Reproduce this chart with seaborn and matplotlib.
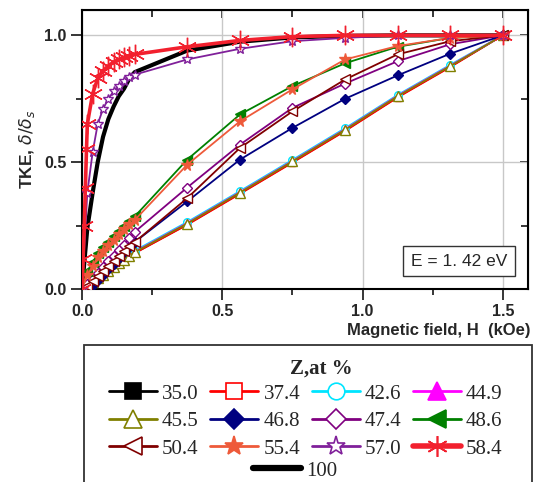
import matplotlib
matplotlib.use("Agg")
import matplotlib.pyplot as plt
from matplotlib.lines import Line2D
from matplotlib.patches import Rectangle
from matplotlib.ticker import MultipleLocator
import seaborn as sns

# magnetic field grid (kOe) shared by most curves
h_field = [0.0, 0.019, 0.038, 0.056, 0.075, 0.094, 0.113, 0.131, 0.15, 0.169, 0.188,
           0.375, 0.563, 0.75, 0.938, 1.125, 1.313, 1.5]

# TKE, delta/delta_s for each composition (Z, at %)
tke_350 = [0, 0.010, 0.024, 0.039, 0.054, 0.069, 0.084, 0.098, 0.113, 0.127, 0.142, 0.255, 0.377, 0.500, 0.625, 0.757, 0.877, 1.0]
tke_374 = [0, 0.009, 0.023, 0.038, 0.053, 0.068, 0.083, 0.097, 0.112, 0.126, 0.141, 0.253, 0.375, 0.498, 0.623, 0.755, 0.875, 1.0]
tke_426 = [0, 0.016, 0.032, 0.048, 0.063, 0.078, 0.093, 0.107, 0.122, 0.136, 0.151, 0.264, 0.386, 0.509, 0.634, 0.765, 0.884, 1.0]
tke_449 = [0, 0.014, 0.029, 0.044, 0.059, 0.074, 0.089, 0.103, 0.118, 0.132, 0.147, 0.260, 0.382, 0.505, 0.630, 0.762, 0.881, 1.0]
tke_455 = [0, 0.012, 0.027, 0.042, 0.057, 0.072, 0.087, 0.101, 0.116, 0.130, 0.145, 0.258, 0.380, 0.503, 0.628, 0.760, 0.879, 1.0]
tke_468 = [0, 0.004, 0.014, 0.035, 0.055, 0.078, 0.100, 0.122, 0.145, 0.167, 0.185, 0.345, 0.510, 0.635, 0.750, 0.842, 0.928, 1.0]
tke_474 = [0, 0.020, 0.040, 0.065, 0.085, 0.110, 0.130, 0.155, 0.175, 0.200, 0.225, 0.400, 0.569, 0.714, 0.810, 0.898, 0.965, 1.0]
tke_486 = [0, 0.070, 0.105, 0.140, 0.165, 0.185, 0.207, 0.228, 0.248, 0.268, 0.286, 0.510, 0.688, 0.800, 0.890, 0.955, 0.990, 1.0]
tke_504 = [0, 0.012, 0.030, 0.050, 0.070, 0.090, 0.110, 0.130, 0.150, 0.168, 0.185, 0.358, 0.556, 0.700, 0.826, 0.925, 0.977, 1.0]
tke_554 = [0, 0.055, 0.090, 0.125, 0.150, 0.172, 0.195, 0.215, 0.235, 0.255, 0.272, 0.490, 0.661, 0.787, 0.905, 0.958, 0.990, 1.0]
tke_570 = [0, 0.380, 0.540, 0.650, 0.710, 0.750, 0.780, 0.800, 0.820, 0.835, 0.845, 0.905, 0.947, 0.977, 0.990, 1.0, 1.0, 1.0]
tke_100 = [0, 0.240, 0.380, 0.500, 0.600, 0.670, 0.720, 0.760, 0.790, 0.830, 0.855, 0.940, 0.975, 0.992, 0.998, 1.0, 1.0, 1.0]

# Z = 58.4 was sampled more densely near zero field
h_field_584 = [0.0, 0.004, 0.008, 0.012, 0.016, 0.019, 0.038, 0.056, 0.075, 0.094, 0.113,
               0.131, 0.15, 0.169, 0.188, 0.375, 0.563, 0.75, 0.938, 1.125, 1.313, 1.5]
tke_584 = [0, 0.12, 0.25, 0.40, 0.55, 0.65, 0.77, 0.83, 0.86, 0.88, 0.895,
           0.905, 0.913, 0.92, 0.925, 0.955, 0.98, 0.995, 1.0, 1.0, 1.0, 1.0]

z_labels = ["35.0", "37.4", "42.6", "44.9", "45.5", "46.8",
            "47.4", "48.6", "50.4", "55.4", "57.0", "58.4"]
z_values = [tke_350, tke_374, tke_426, tke_449, tke_455, tke_468,
            tke_474, tke_486, tke_504, tke_554, tke_570, tke_584]

# styles: colour, marker, filled?, plot marker size, legend marker size
styles = {
    "35.0": ("#000000", "s", True, 5, 11),
    "37.4": ("#ff0000", "s", False, 5, 11),
    "42.6": ("#00e5ff", "o", False, 5.5, 12),
    "44.9": ("#ff00ff", "^", True, 6, 13),
    "45.5": ("#808000", "^", False, 7, 13),
    "46.8": ("#000080", "D", True, 5, 10),
    "47.4": ("#800080", "D", False, 5.5, 10),
    "48.6": ("#008000", "<", True, 6.5, 13),
    "50.4": ("#800000", "<", False, 7, 13),
    "55.4": ("#ee5a3a", "*", True, 8.5, 14),
    "57.0": ("#80209a", "*", False, 7.5, 14),
    "58.4": ("#f2202e", (6, 2, 0), True, 14, 15),
}

sns.set_style("ticks")
plt.rcParams["font.family"] = ["Liberation Sans", "DejaVu Sans"]

fig = plt.figure(figsize=(5.37, 4.82), dpi=100)
ax = fig.add_axes([82 / 537, 1 - 289 / 482, 446 / 537, 279 / 482])

# black 100 curve first so the data sit on top
sns.lineplot(x=h_field, y=tke_100, ax=ax, color="black", linewidth=3.0,
             sort=False, estimator=None, zorder=3)

for lab, yy in zip(z_labels, z_values):
    col, mk, filled, ms, _ = styles[lab]
    xx = h_field_584 if lab == "58.4" else h_field
    lw = 2.6 if lab == "58.4" else 1.3
    sns.lineplot(x=xx, y=yy, ax=ax, color=col, linewidth=lw,
                 marker=mk, markersize=ms,
                 markerfacecolor=col if filled else "white",
                 markeredgecolor=col, markeredgewidth=1.0,
                 sort=False, estimator=None, zorder=4)

ax.set_xlim(0, 1.59)
ax.set_ylim(0, 1.1)
ax.xaxis.set_major_locator(MultipleLocator(0.5))
ax.xaxis.set_minor_locator(MultipleLocator(0.25))
ax.yaxis.set_major_locator(MultipleLocator(0.5))
ax.yaxis.set_minor_locator(MultipleLocator(0.25))
ax.grid(True, which="major", color="#c8c8c8", linewidth=1.0, zorder=0)
ax.set_axisbelow(True)

for sp in ax.spines.values():
    sp.set_visible(True)
    sp.set_linewidth(1.5)
    sp.set_color("black")

ax.tick_params(which="both", left=True, bottom=True, top=False, right=False,
               direction="out", width=1.3, labelsize=11.5, pad=3)
ax.tick_params(which="major", length=8)
ax.tick_params(which="minor", length=4.5)
for t in ax.get_xticklabels() + ax.get_yticklabels():
    t.set_fontweight("bold")

# inward ticks on top and right
ax_top = ax.secondary_xaxis("top")
ax_top.xaxis.set_major_locator(MultipleLocator(0.5))
ax_top.xaxis.set_minor_locator(MultipleLocator(0.25))
ax_top.tick_params(which="both", direction="in", width=1.3, labeltop=False)
ax_top.tick_params(which="major", length=6)
ax_top.tick_params(which="minor", length=5)
ax_right = ax.secondary_yaxis("right")
ax_right.yaxis.set_major_locator(MultipleLocator(0.5))
ax_right.yaxis.set_minor_locator(MultipleLocator(0.25))
ax_right.tick_params(which="both", direction="in", width=1.3, labelright=False)
ax_right.tick_params(which="major", length=6)
ax_right.tick_params(which="minor", length=5)

ax.set_ylabel(r"TKE, $\delta/\delta_s$", fontsize=12.5, fontweight="bold", labelpad=5)
ax.set_xlabel("Magnetic field, H  (kOe)", fontsize=12, fontweight="bold")
ax.xaxis.set_label_coords(1.005, -0.147)
ax.xaxis.label.set_va("center")
ax.xaxis.label.set_ha("right")

ax.text(0.845, 0.10, "E = 1. 42 eV", transform=ax.transAxes, ha="center", va="center",
        fontsize=12.5, zorder=6,
        bbox=dict(boxstyle="square,pad=0.45", facecolor="white", edgecolor="#333333", linewidth=1.0))

# legend built from proxies, row-major in 4 columns
handles = []
for lab in z_labels:
    col, mk, filled, _, lms = styles[lab]
    lw = 4 if lab == "58.4" else 2
    handles.append(Line2D([], [], color=col, linewidth=lw, marker=mk, markersize=lms,
                          markerfacecolor=col if filled else "white",
                          markeredgecolor=col, markeredgewidth=1.2))
order = [0, 4, 8, 1, 5, 9, 2, 6, 10, 3, 7, 11]
leg_font = {"family": ["Liberation Serif"], "size": 15}
fig.legend([handles[i] for i in order], [z_labels[i] for i in order],
           ncol=4, loc="upper left", bbox_to_anchor=(109 / 537, 1 - 384 / 482),
           frameon=False, prop=leg_font, borderpad=0, borderaxespad=0,
           handlelength=2.3, handletextpad=0.25, columnspacing=0.55, labelspacing=0.38)
fig.legend([Line2D([], [], color="black", linewidth=4.5)], ["100"],
           loc="upper left", bbox_to_anchor=(253 / 537, 1 - 461 / 482),
           frameon=False, prop=leg_font, borderpad=0, borderaxespad=0,
           handlelength=2.3, handletextpad=0.25)
fig.text(321 / 537, 1 - 369 / 482, "Z,at %", ha="center", va="center",
         family=["Liberation Serif"], fontsize=15, fontweight="bold")
fig.patches.append(Rectangle((84 / 537, -0.05), 448 / 537, 0.05 + 1 - 345 / 482,
                             transform=fig.transFigure, fill=False,
                             edgecolor="#333333", linewidth=1.3))

plt.savefig("out.png", dpi=100)
plt.close()
